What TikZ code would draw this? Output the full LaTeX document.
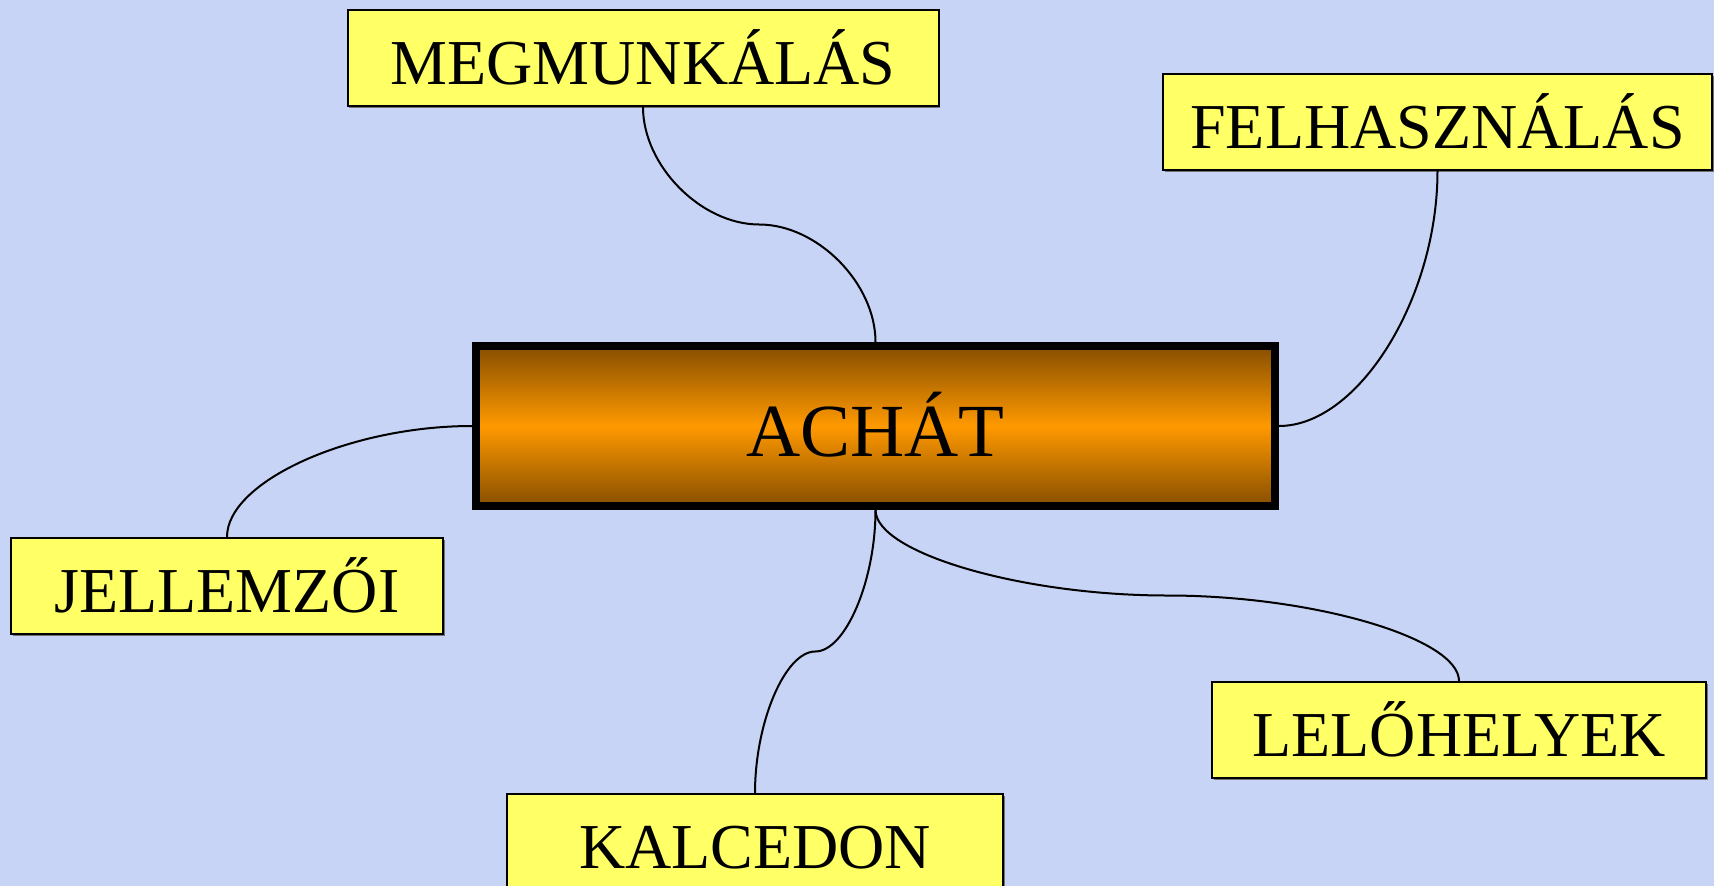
\documentclass[tikz,border=0pt]{standalone}
\usepackage{fontspec}
\setmainfont{Liberation Serif}
\usetikzlibrary{calc,shadows}
\definecolor{bgblue}{RGB}{200,212,245}
\definecolor{boxyellow}{RGB}{255,255,102}
\definecolor{achdark}{RGB}{134,78,0}
\definecolor{achorange}{RGB}{255,153,0}
\begin{document}
\begin{tikzpicture}[x=1pt,y=-1pt,
  leaf/.style={draw=black, line width=2pt, fill=boxyellow, rectangle, inner xsep=0pt, inner ysep=0pt,
    minimum height=96pt, text height=74pt, text depth=22pt, font=\fontsize{64}{70}\selectfont,
    drop shadow={shadow xshift=1.5pt, shadow yshift=-1.5pt, fill=black!55, opacity=1}},
  hub/.style={draw=black, line width=8pt, rectangle, inner sep=0pt, minimum width=799pt,
    minimum height=160pt, text height=110pt, text depth=50pt,
    top color=achdark, bottom color=achdark, middle color=achorange,
    font=\fontsize{75}{80}\selectfont},
  conn/.style={draw=black, line width=2pt}]
\useasboundingbox (0,0) rectangle (1714,886);
\fill[bgblue] (0,0) rectangle (1714,886);

\node[hub] (ach) at (875.5,426) {ACHÁT};
\node[leaf, minimum width=591pt] (meg) at (643,58) {MEGMUNKÁLÁS};
\node[leaf, minimum width=549pt] (fel) at (1437.5,122) {FELHASZNÁLÁS};
\node[leaf, minimum width=432pt] (jel) at (227,586) {JELLEMZŐI};
\node[leaf, minimum width=494pt] (lel) at (1459,730) {LELŐHELYEK};
\node[leaf, minimum width=496pt] (kal) at (755,842) {KALCEDON};

% curved connectors (3-segment type)
\coordinate (m1) at ($(meg.south)!0.5!(ach.north)$);
\draw[conn] (meg.south)
  .. controls ($(meg.south)!0.5!(meg.south |- m1)$) and ($(m1)!0.5!(m1 -| meg.south)$) .. (m1)
  .. controls ($(m1)!0.5!(m1 -| ach.north)$) and ($(ach.north)!0.5!(ach.north |- m1)$) .. (ach.north);

\coordinate (m2) at ($(ach.south)!0.5!(kal.north)$);
\draw[conn] (ach.south)
  .. controls ($(ach.south)!0.5!(ach.south |- m2)$) and ($(m2)!0.5!(m2 -| ach.south)$) .. (m2)
  .. controls ($(m2)!0.5!(m2 -| kal.north)$) and ($(kal.north)!0.5!(kal.north |- m2)$) .. (kal.north);

\coordinate (m3) at ($(ach.south)!0.5!(lel.north)$);
\draw[conn] (ach.south)
  .. controls ($(ach.south)!0.5!(ach.south |- m3)$) and ($(m3)!0.5!(m3 -| ach.south)$) .. (m3)
  .. controls ($(m3)!0.5!(m3 -| lel.north)$) and ($(lel.north)!0.5!(lel.north |- m3)$) .. (lel.north);

% curved connectors (2-segment type)
\coordinate (m4) at ($(fel.south)!0.5!(ach.east)$);
\draw[conn] (fel.south) .. controls (fel.south |- m4) and (m4 |- ach.east) .. (ach.east);

\coordinate (m5) at ($(ach.west)!0.5!(jel.north)$);
\draw[conn] (ach.west) .. controls (m5 |- ach.west) and (jel.north |- m5) .. (jel.north);
\end{tikzpicture}
\end{document}
